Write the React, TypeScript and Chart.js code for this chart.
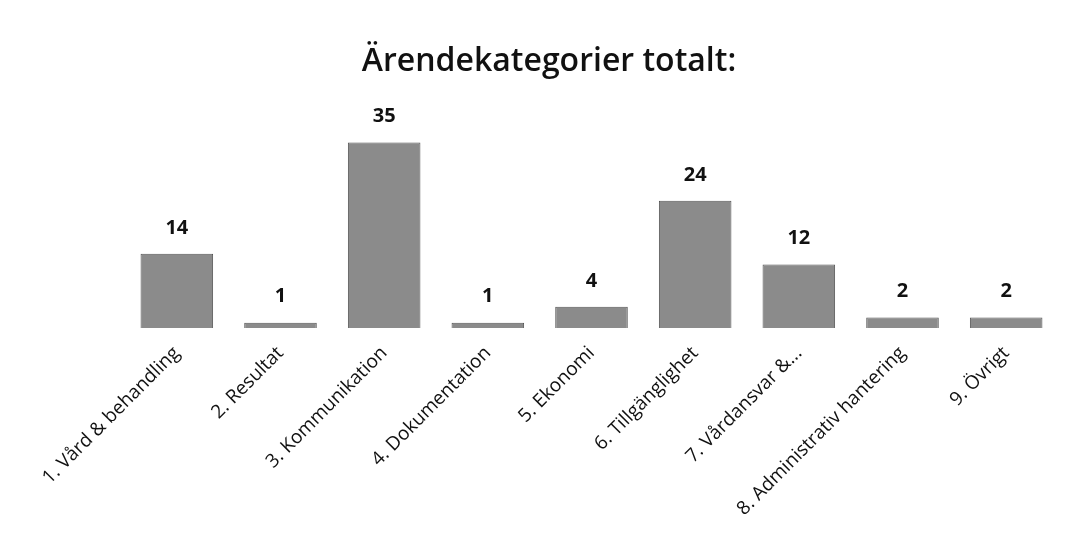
import React, { useEffect, useRef } from "react";
import { Chart, registerables } from "chart.js";

Chart.register(...registerables);

const categories = [
  "1. Vård & behandling",
  "2. Resultat",
  "3. Kommunikation",
  "4. Dokumentation",
  "5. Ekonomi",
  "6. Tillgänglighet",
  "7. Vårdansvar &...",
  "8. Administrativ hantering",
  "9. Övrigt",
];
const counts = [14, 1, 35, 1, 4, 24, 12, 2, 2];
const titleText = "Ärendekategorier totalt:";

const valueLabels = {
  id: "valueLabels",
  afterDatasetsDraw(chart: any) {
    const ctx = chart.ctx;
    const meta = chart.getDatasetMeta(0);
    ctx.save();
    ctx.font = "bold 20px 'Open Sans', sans-serif";
    ctx.fillStyle = "#111";
    ctx.textAlign = "center";
    ctx.textBaseline = "bottom";
    meta.data.forEach((bar: any, i: number) => {
      ctx.fillText(String(chart.data.datasets[0].data[i]), bar.x, bar.y - 16);
    });
    ctx.restore();
  },
};

const pageTitle = {
  id: "pageTitle",
  afterDraw(chart: any) {
    const ctx = chart.ctx;
    ctx.save();
    ctx.font = "600 32px 'Open Sans', sans-serif";
    ctx.fillStyle = "#111";
    ctx.textAlign = "center";
    ctx.textBaseline = "middle";
    ctx.fillText(titleText, 549, 62);
    ctx.restore();
  },
};

export default function App() {
  const ref = useRef<HTMLCanvasElement>(null);
  useEffect(() => {
    document.body.style.margin = "0";
    const chart = new Chart(ref.current!, {
      type: "bar",
      data: {
        labels: categories,
        datasets: [
          {
            data: counts,
            backgroundColor: "#8b8b8b",
            borderColor: "#555555",
            borderWidth: 1,
            categoryPercentage: 0.7,
            barPercentage: 1,
          },
        ],
      },
      options: {
        animation: false,
        responsive: false,
        layout: { padding: { left: 125, right: 16, top: 116, bottom: 0 } },
        plugins: {
          legend: { display: false },
          tooltip: { enabled: false },
          title: { display: false },
        },
        scales: {
          x: {
            grid: { display: false, drawTicks: false },
            border: { display: false },
            ticks: {
              color: "#111",
              font: { size: 19, family: "'Open Sans', sans-serif" },
              minRotation: 45,
              maxRotation: 45,
              padding: 14,
              autoSkip: false,
            },
            afterFit: (scale: any) => {
              scale.height = 224;
            },
          },
          y: {
            display: false,
            min: 0,
            max: 40,
          },
        },
      },
      plugins: [valueLabels, pageTitle],
    });
    return () => chart.destroy();
  }, []);
  return (
    <div style={{ width: 1074, height: 552, background: "#fff" }}>
      <canvas ref={ref} width={1074} height={552} />
    </div>
  );
}
